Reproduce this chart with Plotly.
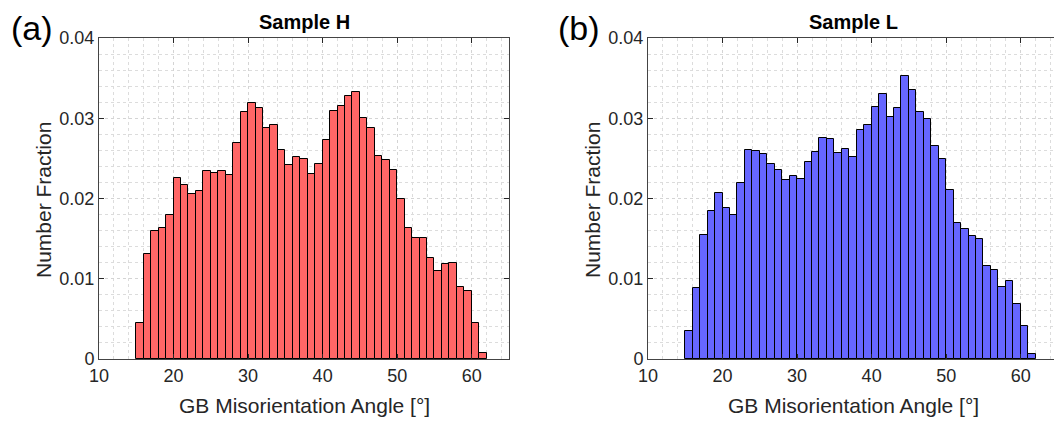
import plotly.graph_objects as go

# Bin centres of the 1-degree misorientation-angle bins (15-16 ... 61-62)
bin_centers = [15.5, 16.5, 17.5, 18.5, 19.5, 20.5, 21.5, 22.5, 23.5, 24.5,
               25.5, 26.5, 27.5, 28.5, 29.5, 30.5, 31.5, 32.5, 33.5, 34.5,
               35.5, 36.5, 37.5, 38.5, 39.5, 40.5, 41.5, 42.5, 43.5, 44.5,
               45.5, 46.5, 47.5, 48.5, 49.5, 50.5, 51.5, 52.5, 53.5, 54.5,
               55.5, 56.5, 57.5, 58.5, 59.5, 60.5, 61.5]

sample_h = [0.00453, 0.01313, 0.01591, 0.01632, 0.01799, 0.02251, 0.02164, 0.02060,
            0.02098, 0.02339, 0.02314, 0.02339, 0.02297, 0.02696, 0.03082, 0.03194,
            0.03132, 0.02874, 0.02912, 0.02609, 0.02422, 0.02521, 0.02496, 0.02301,
            0.02434, 0.02733, 0.03095, 0.03149, 0.03277, 0.03327, 0.03007, 0.02874,
            0.02534, 0.02484, 0.02351, 0.01990, 0.01632, 0.01508, 0.01508, 0.01263,
            0.01101, 0.01180, 0.01200, 0.00897, 0.00843, 0.00453, 0.00079]

sample_l = [0.00353, 0.00881, 0.01541, 0.01844, 0.02069, 0.01882, 0.01794, 0.02189,
            0.02604, 0.02596, 0.02555, 0.02430, 0.02359, 0.02226, 0.02285, 0.02239,
            0.02455, 0.02584, 0.02750, 0.02737, 0.02567, 0.02617, 0.02517, 0.02849,
            0.02920, 0.03140, 0.03298, 0.03020, 0.03124, 0.03522, 0.03348, 0.03078,
            0.02995, 0.02650, 0.02492, 0.02102, 0.01699, 0.01624, 0.01529, 0.01491,
            0.01159, 0.01113, 0.00893, 0.00976, 0.00685, 0.00411, 0.00062]

x_ticks = [10, 20, 30, 40, 50, 60]
y_ticks = [0, 0.01, 0.02, 0.03, 0.04]
y_tick_labels = ["0", "0.01", "0.02", "0.03", "0.04"]
titles = ["Sample H", "Sample L"]
panel_labels = ["(a)", "(b)"]
x_title = "GB Misorientation Angle [°]"
y_title = "Number Fraction"

W, H = 1054, 421
FONT = "Liberation Sans, Arial, Helvetica, sans-serif"
TXT = "#262626"

fig = go.Figure()
fig.add_trace(go.Bar(x=bin_centers, y=sample_h, width=1.0,
                     marker=dict(color="rgb(255,102,102)", line=dict(color="black", width=1)),
                     xaxis="x", yaxis="y", showlegend=False))
fig.add_trace(go.Bar(x=bin_centers, y=sample_l, width=1.0,
                     marker=dict(color="rgb(102,102,255)", line=dict(color="black", width=1)),
                     xaxis="x2", yaxis="y2", showlegend=False))

# pixel geometry
AX_L = [99, 509]
AX_R0 = 648
px_per_deg = (AX_L[1] - AX_L[0]) / 55.0
left_dom = [AX_L[0] / W, AX_L[1] / W]
right_dom = [AX_R0 / W, 1.0]
right_max = 10 + (W - AX_R0) / px_per_deg
Y_TOP, Y_BOT = 38, 359
y_dom = [1 - Y_BOT / H, 1 - Y_TOP / H]

def xax(dom, rng, anchor):
    return dict(domain=dom, range=rng, anchor=anchor, tickvals=x_ticks, automargin=False,
                ticks="inside", ticklen=5, tickcolor=TXT, showline=True, linecolor="#444",
                linewidth=1, mirror="ticks", showgrid=True, gridcolor="#d4d4d4",
                griddash="dot", gridwidth=1, zeroline=False,
                minor=dict(dtick=2, showgrid=True, gridcolor="#dcdcdc", griddash="dot",
                           gridwidth=1, ticks=""),
                tickfont=dict(family=FONT, size=18, color=TXT))

def yax(dom, anchor, mirror):
    return dict(domain=dom, range=[0, 0.04], anchor=anchor, tickvals=y_ticks, automargin=False,
                ticktext=y_tick_labels, ticks="inside", ticklen=5, tickcolor=TXT,
                showline=True, linecolor="#444", linewidth=1, mirror=mirror,
                showgrid=True, gridcolor="#d4d4d4", griddash="dot", gridwidth=1,
                zeroline=False,
                minor=dict(dtick=0.002, showgrid=True, gridcolor="#dcdcdc", griddash="dot",
                           gridwidth=1, ticks=""),
                tickfont=dict(family=FONT, size=18, color=TXT))

fig.update_layout(
    width=W, height=H, margin=dict(l=0, r=0, t=0, b=0, autoexpand=False),
    paper_bgcolor="white", plot_bgcolor="white", bargap=0,
    xaxis=xax(left_dom, [10, 65], "y"),
    yaxis=yax(y_dom, "x", "ticks"),
    xaxis2=xax(right_dom, [10, right_max], "y2"),
    yaxis2=yax(y_dom, "x2", False),
)

annots = []
for i, (t, lab) in enumerate(zip(titles, panel_labels)):
    off = 0 if i == 0 else AX_R0 - AX_L[0]
    cx = (AX_L[0] + AX_L[1]) / 2 + off
    annots.append(dict(text="<b>" + t + "</b>", x=cx / W, y=1 - 22 / H, xref="paper", yref="paper",
                       xanchor="center", yanchor="middle", showarrow=False,
                       font=dict(family=FONT, size=20, color="black")))
    annots.append(dict(text=lab, x=(9 + (off if i == 0 else 547)) / W if i == 0 else 556 / W,
                       y=1 - 28 / H, xref="paper", yref="paper",
                       xanchor="left", yanchor="middle", showarrow=False,
                       font=dict(family=FONT, size=34, color="black")))
    annots.append(dict(text=x_title, x=cx / W, y=1 - 405 / H, xref="paper", yref="paper",
                       xanchor="center", yanchor="middle", showarrow=False,
                       font=dict(family=FONT, size=21, color=TXT)))
    annots.append(dict(text=y_title, x=(43 + off) / W, y=1 - 200 / H, xref="paper", yref="paper",
                       xanchor="center", yanchor="middle", showarrow=False, textangle=-90,
                       font=dict(family=FONT, size=21, color=TXT)))
fig.update_layout(annotations=annots)

fig.write_html("out.html")
